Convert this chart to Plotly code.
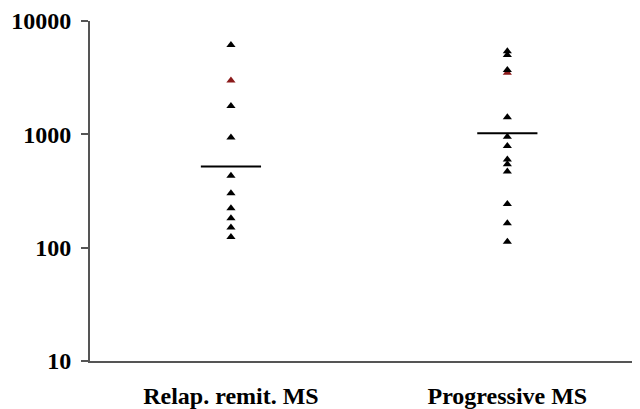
import plotly.graph_objects as go

categories = ["Relap. remit. MS", "Progressive MS"]
rr_values = [6150, 1780, 940, 432, 302, 223, 182, 151, 124]
rr_red = [2980]
rr_median = 519
pr_values = [5400, 5000, 3700, 1416, 950, 790, 600, 545, 469, 243, 164, 113]
pr_red = [3500]
pr_median = 1023
y_ticks = [10, 100, 1000, 10000]

font_serif = "Liberation Serif, Times New Roman, serif"

fig = go.Figure()

def add_group(xcat, vals, color):
    fig.add_trace(go.Scatter(
        x=[xcat] * len(vals), y=vals, mode="markers",
        marker=dict(symbol="triangle-up", size=8, color=color),
        showlegend=False, cliponaxis=False))

add_group(categories[0], rr_values, "black")
add_group(categories[0], rr_red, "#8b1a1a")
add_group(categories[1], pr_red, "#8b1a1a")
add_group(categories[1], pr_values, "black")

fig.add_trace(go.Scatter(
    x=categories, y=[rr_median, pr_median], mode="markers",
    marker=dict(symbol="line-ew-open", size=43, color="black",
                line=dict(color="black", width=2)),
    showlegend=False))

fig.update_layout(
    width=632, height=401,
    margin=dict(l=82, r=0, t=13, b=48),
    plot_bgcolor="white", paper_bgcolor="white",
    font=dict(family=font_serif, color="black"),
)
fig.update_xaxes(
    type="category", range=[-0.51, 1.48], automargin=False,
    showline=True, linecolor="#555", linewidth=2,
    showgrid=False, zeroline=False, ticks="",
    tickfont=dict(size=24, family=font_serif, weight="bold"),
    ticklabelstandoff=12,
)
fig.update_yaxes(
    type="log", range=[1, 4], automargin=False,
    tickvals=y_ticks, ticktext=[str(v) for v in y_ticks],
    showline=True, linecolor="#555", linewidth=2,
    showgrid=False, zeroline=False,
    ticks="outside", ticklen=7, tickcolor="#555", tickwidth=2,
    tickfont=dict(size=24, family=font_serif, weight="bold"),
    ticklabelstandoff=5,
)

fig.write_html("out.html")
